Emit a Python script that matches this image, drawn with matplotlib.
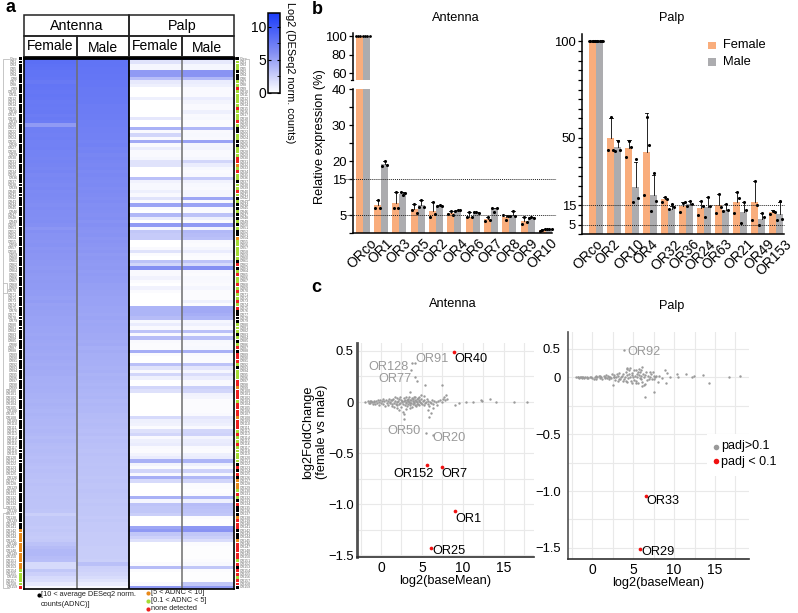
import numpy as np
import matplotlib
matplotlib.use("Agg")
import matplotlib.pyplot as plt
from matplotlib.colors import LinearSegmentedColormap
from matplotlib.patches import Rectangle
from matplotlib.transforms import ScaledTranslation

plt.rcParams['font.family'] = ['Liberation Sans', 'DejaVu Sans']
W, H = 798, 613

# ---------- panel a data ----------
ant_female = [11.5,8.3,8.2,8.1,8.0,8.0,7.9,7.6,7.9,7.8,
 7.7,7.8,7.7,7.5,7.6,7.5,7.6,7.4,7.5,7.4,
 5.4,7.2,7.2,7.1,7.2,7.0,7.0,7.1,6.9,6.9,
 6.8,6.9,6.8,6.7,6.8,6.6,6.7,6.6,6.5,6.6,
 6.4,6.5,6.4,6.3,6.2,6.3,6.2,6.2,6.1,6.2,
 6.0,5.7,6.0,5.9,5.9,5.8,5.9,5.7,5.8,5.7,
 5.7,5.6,5.6,5.5,5.6,5.5,5.4,5.5,5.4,5.4,
 5.3,5.3,5.2,5.3,5.1,5.2,5.1,5.1,5.0,5.0,
 5.0,4.9,4.9,4.8,4.9,4.8,4.7,4.8,4.7,4.6,
 4.7,4.6,4.5,4.6,4.5,4.5,4.4,4.4,4.3,4.4,
 4.3,4.2,4.2,4.1,4.2,4.1,4.0,4.1,4.0,3.9,
 3.9,3.8,3.9,3.8,3.7,3.8,3.7,3.6,3.7,3.6,
 3.5,3.6,3.5,3.4,3.5,3.4,3.4,3.3,3.4,3.3,
 3.3,3.2,3.3,3.2,3.2,3.2,3.1,2.6,3.0,3.0,
 3.0,2.9,3.0,2.9,2.8,2.9,3.3,3.6,3.8,3.8,
 3.6,3.5,2.0,2.0,3.0,2.5,2.0,1.8,1.2,0.3]
ant_male = [11.5,8.0,8.0,7.9,7.9,7.8,7.8,7.7,7.7,7.6,
 7.6,7.6,7.5,7.5,7.4,7.4,7.4,7.3,7.3,7.2,
 7.2,7.1,7.1,7.0,7.0,6.9,7.0,6.8,6.9,6.7,
 6.8,6.7,6.6,6.7,6.5,6.6,6.5,6.4,6.5,6.3,
 6.4,6.3,6.2,6.3,6.1,6.2,6.1,6.0,6.1,5.9,
 6.0,5.9,5.8,5.9,5.7,5.8,5.7,5.6,5.7,5.5,
 5.6,5.5,5.4,5.5,5.3,5.4,5.3,5.3,5.2,5.2,
 5.1,5.1,5.0,5.0,5.0,4.9,4.9,4.8,4.9,4.7,
 4.8,4.7,4.7,4.6,4.6,4.5,4.6,4.4,4.5,4.4,
 4.4,4.3,4.3,4.2,4.3,4.1,4.2,4.1,4.0,4.1,
 4.0,3.9,4.0,3.8,3.9,3.8,3.8,3.7,3.7,3.6,
 3.7,3.6,3.5,3.6,3.4,3.5,3.4,3.4,3.3,3.4,
 3.3,3.3,3.2,3.3,3.2,3.2,3.1,3.2,3.1,3.1,
 3.2,3.1,3.1,3.0,3.1,3.0,3.0,3.0,2.9,3.0,
 2.9,2.9,2.9,2.8,2.8,2.8,2.8,2.7,2.7,2.7,
 2.7,2.6,3.4,2.5,2.4,2.2,1.9,1.5,1.0,0.3]
palp_female = [11,1.5,.5,.5,5.4,5.4,3.5,1.2,.8,0,
 0,0,.8,0,0,0,0,0,1.3,0,
 0,4.2,.3,2.2,.3,4.6,.3,1,.3,.3,
 .5,1.5,1.5,0,0,0,3.4,.7,.4,.4,
 .8,.3,1.5,.3,5,.3,0,3.8,1,0,
 5.4,.5,3,2.8,2.8,0,0,.3,1.5,.2,
 0,3.2,2.2,6,.3,.3,.7,.2,0,.7,
 .2,0,0,0,0,4,4,4,3.6,.4,
 1,.3,3.2,.3,3.6,.3,.2,.2,4.4,.2,
 0,0,3.4,1.5,.3,2.2,.8,0,0,2.2,
 1.6,0,0,0,0,0,0,0,2,.8,
 .7,.2,1.6,2.2,.3,.8,1,.3,.2,.6,
 1,4.2,.6,.2,2.2,.3,4.4,2,0,0,
 0,0,4.2,.5,3.2,3,3,2.6,0,0,
 0,4.8,5.4,3,2.4,1.6,0,0,0,0,
 0,0,.2,3.6,.2,0,0,0,.3,5.4]
palp_male = [11,1.2,.5,.5,5.8,5.8,3.8,1,.8,.3,
 .3,.3,1,.6,.3,.3,.8,.3,.4,.2,
 .2,3.8,.3,.4,.3,5,.6,.7,.3,.3,
 .5,2.2,1,.4,.2,.3,2.8,.7,.4,.3,
 .5,.5,4.8,.3,5,.3,.2,3.2,.8,.2,
 5.4,.6,3.8,3.6,3.4,.3,.2,.5,1,.3,
 .2,3.2,2,6,.3,.2,.4,.3,.2,.5,
 .2,.2,.2,.8,.2,4.6,4.6,4.4,4,.5,
 .8,.3,3.4,.4,3.4,.4,.3,.4,4.2,.3,
 .2,.2,3.2,1.4,.5,1.8,1,.3,.3,2.6,
 2.2,.7,.6,.2,.2,.2,.2,.3,1.4,1,
 .8,.3,2.2,2.4,.6,1,1.2,.3,.2,.8,
 1,4,.8,.3,2.4,.4,3.8,2.2,.2,.2,
 .1,.2,4,.8,3.6,3.4,3.2,3,.2,.1,
 .1,5.6,5.8,3,2.6,1.8,.2,.1,.1,.1,
 .1,.2,.4,3,.2,.1,.1,.1,3,5.4]
cat_left = list('k' * 142 + 'o' * 12 + 'g' * 5 + 'r')
cat_right = list('kgggkkkggr' 'gggggrgggr' 'gkkggkkggg' 'rrogrggkgg'
                 'rgkgkkgkkg' 'kgkkoggggg' 'gkrkgrggrg' 'rggrgrkkkk'
                 'gggkgkgrkr' 'rrgkgggrro' 'rrrgrrrror' 'rrgrggrggg'
                 'ggkrkrkooo' 'grgkrkkkor' 'rrkkkorrrr' 'rgrkrrgrrk')
first_genes = ['Orco','OR1','OR3','OR5','OR2','OR4','OR6','OR7','OR8','OR9','OR10']
gene_labels = first_genes + [f'OR{n}' for n in range(11, 160)]
dot_colours = {'k': '#000000', 'o': '#E8891A', 'g': '#A6DC35', 'r': '#EE2020'}

# ---------- panel b data ----------
ant_genes = ['ORco','OR1','OR3','OR5','OR2','OR4','OR6','OR7','OR8','OR9','OR10']
ant_shift = [7,5,4,5,5,6,5,5,4,3,4]
ant_f = [100,7.9,8.5,6.7,6.1,5.6,4.6,3.9,4.4,3.3,0.9]
ant_m = [100,19.2,10.9,7.9,7.6,6.3,5.8,6.9,5.1,4.4,1.1]
ant_f_err = [100,9.3,11.6,8.2,8.7,6.3,5.9,4.4,5.2,4.5,1.1]
ant_m_err = [100,20.2,11.6,9.3,7.8,6.5,6.0,7.0,6.3,4.4,1.3]
ant_f_pts = [[100,100,100],[7.0,9.3,6.9],[7.1,11.6,7.1],[6.5,8.2,5.6],[4.6,8.7,5.3],[5.4,6.3,5.1],
             [4.6,5.9,4.4],[3.5,4.4,3.7],[5.2,3.7,4.8],[2.6,4.5,3.1],[0.7,0.9,1.1]]
ant_m_pts = [[100,100,100],[18.8,20.2,19.0],[11.6,10.5,11.3],[7.2,9.3,7.2],[7.6,7.8,7.7],[6.3,6.5,6.5],
             [6.0,5.8,5.7],[7.0,5.9,6.9],[4.8,6.3,4.8],[4.2,4.4,4.3],[1.1,1.1,1.3]]
palp_genes = ['ORco','OR2','OR10','OR4','OR32','OR36','OR24','OR63','OR21','OR49','OR153']
pal_shift = [0,-1,5,1,6,6,4,3,7,9,9]
pal_f = [100,50,44.6,42.7,18.3,14.9,13.6,15,16.8,16.9,11.6]
pal_m = [100,45.3,24.7,20.4,13,15.7,14.2,12.6,11.4,8.1,10.7]
pal_f_err = [100,60,48.9,63,19.5,16.6,17.3,20.9,22,27.6,12.6]
pal_m_err = [100,49,37.5,30.7,14.9,17.3,19.2,15.5,16.7,11.2,16.9]
pal_f_pts = [[100,100,100],[43.8,61,43.8],[40.2,48.2,45.3],[20.4,61,46.3],[16.9,19.5,18.1],[11.8,16.1,16.6],
             [10,17.3,14.7],[10.9,20.9,14.3],[10.9,21.8,19],[7.6,27.6,15],[10.4,12.2,11.5]]
pal_m_pts = [[100,100,100],[43,48.2,43.8],[16.8,39,18.7],[12,31.6,17],[13.2,15.7,14.3],[14.9,17.3,15.7],
             [8.8,19.2,14.7],[12.2,15.6,12.4],[5.9,16.7,12.8],[4.7,11.2,9.2],[7.4,17.4,8]]

# ---------- panel c data ----------
ma_ant_x = [-1.9,-1.6,-1.5,-1.4,-1.3,-1.2,-1.1,-1.0,-0.9,-0.8,-0.7,-0.6,-0.5,-0.4,-0.3,-0.2,-0.1,0.0,0.1,0.2,
 0.3,0.4,0.5,0.6,0.7,0.8,0.9,1.0,1.1,1.15,1.2,1.3,1.35,1.4,1.5,1.6,1.65,1.7,1.8,1.9,
 1.95,2.0,2.1,2.15,2.2,2.3,2.35,2.4,2.5,2.55,2.6,2.7,2.75,2.8,2.9,2.95,3.0,3.05,3.1,3.15,
 3.2,3.25,3.3,3.35,3.4,3.45,3.5,3.55,3.6,3.65,3.7,3.75,3.8,3.85,3.9,3.95,4.0,4.05,4.1,4.15,
 4.2,4.25,4.3,4.35,4.4,4.45,4.5,4.55,4.6,4.65,4.7,4.8,4.85,4.9,5.0,5.1,5.2,5.3,5.4,5.5,
 5.6,5.7,5.8,5.9,6.0,6.1,6.2,6.4,6.5,6.7,6.9,7.0,7.2,7.4,7.6,7.8,1.9,2.8,2.8,3.55,
 2.7,5.4,7.4,5.9,6.1,8.0,8.1,7.7,4.9,4.0,9.0,9.5,10.4,11.2,12.2,12.4,13.3,14.1,16.3,17.8,
 4.2,4.4,5.5,6.3,3.0,3.6,2.2,1.6,5.2,5.7,6.3,3.8,4.6]
ma_ant_y = [.0,.01,-.01,.005,-.01,.01,.0,-.015,.01,.0,-.02,.01,-.005,.015,-.03,.0,.02,-.01,.01,-.02,
 .03,.005,-.04,.02,-.01,.01,-.03,.03,.0,-.01,.02,-.02,.015,-.035,.03,-.01,.01,.05,-.02,.0,
 .04,-.03,.01,-.02,.03,.05,-.01,.02,-.05,.01,.0,-.02,.04,.01,-.03,.02,.045,-.01,.0,.02,
 -.04,.01,.03,-.02,.0,.05,-.01,.015,-.03,.02,-.005,.035,-.05,.01,-.02,.03,.0,-.01,.05,-.03,
 .02,-.04,.01,.03,-.015,.0,.04,-.02,.01,-.03,.02,.0,-.01,.03,-.02,.01,-.03,.02,-.01,.0,
 .03,-.02,.01,-.04,.0,-.01,.02,-.02,.01,.0,-.03,.01,.02,.0,.03,.015,-.06,-.17,-.12,.10,
 -.095,.17,.167,-.145,-.11,.07,.026,.046,.07,.045,-.03,-.006,.0,.0,.016,.013,.026,-.003,-.003,-.003,
 .24,.21,-.3,-.32,-.07,-.06,-.075,-.05,.06,-.08,-.06,.38,.045]
ant_lab_x = [4.1,3.7]
ant_lab_y = [0.38,0.31]
ant_red_x = [8.9,5.6,7.5,9.1,6.1]
ant_red_y = [0.49,-0.62,-0.64,-1.07,-1.43]
ma_pal_x = [-2.0,-1.8,-1.7,-1.6,-1.5,-1.4,-1.3,-1.2,-1.1,-1.0,-0.9,-0.7,-0.6,-0.5,-0.3,-0.2,0.0,0.2,0.3,0.4,
 0.5,0.6,0.8,0.9,1.0,1.1,1.2,1.4,1.5,1.6,1.7,1.8,1.9,2.0,2.1,2.2,2.3,2.4,2.5,2.6,
 2.7,2.8,2.9,3.0,3.1,3.2,3.3,3.4,3.5,3.6,3.7,3.8,3.9,4.0,4.1,4.2,4.25,4.3,4.4,4.5,
 4.6,4.65,4.7,4.8,4.85,4.9,5.0,5.05,5.1,5.2,5.3,5.4,5.45,5.5,5.6,5.65,5.7,5.8,5.85,5.9,
 6.0,6.05,6.1,6.2,6.3,6.4,6.5,6.6,6.7,6.8,6.9,7.0,7.1,7.2,7.3,7.4,7.5,7.6,7.7,7.8,
 8.0,8.2,8.5,8.9,9.1,9.06,9.5,10.3,10.5,11.4,12.2,12.4,13.5,14.3,16.7,18.0,6.5,7.56,4.3,4.5,
 6.1,5.4,5.9,4.1,2.6,3.3,6.3,5.6]
ma_pal_y = [.0,.0,.005,-.005,.0,.005,-.005,.0,.005,-.01,.0,-.01,.005,-.01,.0,.005,-.01,-.02,.0,.01,
 -.015,.0,.01,-.01,.015,.0,-.02,.01,-.01,.0,.02,-.005,.01,-.02,.005,.0,-.01,.03,-.07,.0,
 .02,-.025,.0,.03,-.03,.01,.04,-.02,.0,.01,-.03,.03,-.015,.0,.05,-.04,.02,.085,-.01,.03,
 .0,.085,-.035,.02,-.05,.035,.0,.065,-.025,.015,.06,-.03,.0,.025,-.055,.02,.07,-.01,.045,-.02,
 .01,.09,-.04,.03,.0,-.06,.02,.05,-.025,.01,-.015,.05,.0,.03,-.02,.045,.015,-.02,.0,.01,
 -.04,.01,-.01,.064,.035,-.047,.0,.03,.0,.03,.0,.01,.02,-.047,.0,.015,-.176,-.126,.07,.06,
 -.075,-.05,.06,-.035,.0,-.02,-.07,.045]
pal_lab_x = [3.86]
pal_lab_y = [0.235]
pal_red_x = [6.6,5.8]
pal_red_y = [-1.04,-1.51]

FEM = '#F9AD7C'
MAL = '#ACACAF'
GR = '#9A9A9A'

fig = plt.figure(figsize=(W / 100, H / 100), dpi=100)

def px_axes(l, t, r, b, **kw):
    return fig.add_axes([l / W, 1 - b / H, (r - l) / W, (b - t) / H], **kw)

over = px_axes(0, 0, W, H, zorder=20)
over.set_xlim(0, W); over.set_ylim(H, 0); over.axis('off'); over.patch.set_alpha(0)

def T(x, y, s, size=9.3, ha='center', va='center', **kw):
    over.text(x, y, s, fontsize=size, ha=ha, va=va, **kw)

for x, y, s in [(10, 8, 'a'), (317, 9, 'b'), (316, 287, 'c')]:
    T(x, y, s, size=13, fontweight='bold')

# ---------- panel a ----------
cmap = LinearSegmentedColormap.from_list('wb', ['#FFFFFF', '#8590F3', '#1A3CFA'])
heat = np.array([ant_female, ant_male, palp_female, palp_male]).T
axh = px_axes(24, 57, 234, 589)
im = axh.imshow(heat, cmap=cmap, vmin=0, vmax=12, aspect='auto', interpolation='nearest',
                extent=(0, 4, len(heat) - 0.5, -0.5))
axh.set_xticks([]); axh.set_yticks([])
for s in axh.spines.values():
    s.set_linewidth(1.2)
axh.axvline(1, color='#6E6E6E', lw=1.1)
axh.axvline(3, color='#6E6E6E', lw=1.1)
axh.axvline(2, color='black', lw=1.3)
rows = np.arange(len(heat))
axh.scatter(np.full(len(rows), -0.063), rows, c=[dot_colours[c] for c in cat_left], s=4.5,
            marker='s', linewidths=0, clip_on=False)
axh.scatter(np.full(len(rows), 4.063), rows, c=[dot_colours[c] for c in cat_right], s=4.5,
            marker='s', linewidths=0, clip_on=False)
for r, g in zip(rows, gene_labels):
    axh.text(-0.125, r, g, fontsize=2.5, ha='right', va='center', color='#666666', clip_on=False)
    axh.text(4.115, r, g, fontsize=2.5, ha='left', va='center', color='#666666', clip_on=False)
axh.set_xlim(0, 4); axh.set_ylim(len(heat) - 0.5, -0.5)

# header boxes
for (x0, x1, y0, y1) in [(24, 129, 14.5, 36), (129, 234, 14.5, 36), (24, 77, 36, 56.5),
                         (77, 129, 36, 56.5), (129, 182, 36, 56.5), (182, 234, 36, 56.5)]:
    over.add_patch(Rectangle((x0, y0), x1 - x0, y1 - y0, fc='none', ec='#222222', lw=1.1))
over.plot([24, 234], [57.5, 57.5], color='black', lw=2)
T(77, 25.5, 'Antenna', 10.3); T(182, 26, 'Palp', 10.3)
T(50, 46, 'Female', 10); T(103, 48, 'Male', 10); T(155, 46, 'Female', 10); T(207, 48, 'Male', 10)

# tree brackets
for pts in [[(9, 59), (3, 59), (3, 508), (9, 508)], [(9, 513), (3, 513), (3, 588), (9, 588)],
            [(3, 283), (7, 283), (7, 293), (3, 293)], [(245, 59), (249, 59), (249, 200), (245, 200)]]:
    xs, ys = zip(*pts)
    over.plot(xs, ys, color='#BDBDBD', lw=0.6)

# colourbar
cax = px_axes(268.3, 13.3, 280, 93)
cb = fig.colorbar(im, cax=cax, ticks=[0, 5, 10])
cb.ax.yaxis.set_ticks_position('both')
cb.ax.yaxis.set_label_position('left')
cb.ax.set_yticks([2.5, 7.5], minor=True)
cb.ax.tick_params(which='major', left=True, right=True, labelleft=True, labelright=False, labelsize=10,
                  length=2.5, width=0.8, pad=1.5, direction='in')
cb.ax.tick_params(which='minor', left=False, right=True, length=2, width=0.6, direction='in')
cb.outline.set_linewidth(1.1)
T(290, 73, 'Log2 (DESeq2 norm. counts)', 7.8, rotation=270)

# bottom legend
over.scatter([39.3], [595], s=9, c='black', linewidths=0)
T(41, 595, '[10 < average DESeq2 norm.', 5.3, ha='left', color='#222222')
T(41, 604, 'counts(ADNC)]', 5.3, ha='left', color='#222222')
for y, c, s in [(592.7, 'o', '[5 < ADNC < 10]'), (601, 'g', '[0.1 < ADNC < 5]'), (608.7, 'r', 'none detected')]:
    over.scatter([147.7], [y], s=9, c=dot_colours[c], linewidths=0)
    T(150.7, y, s, 5.3, ha='left', color='#222222')

# ---------- panel b ----------
BW = 0.382
def bars(ax, f, m, fe, me, fp, mp, ptsize=5):
    idx = np.arange(len(f))
    ax.bar(idx - BW / 2, f, BW, color=FEM, linewidth=0)
    ax.bar(idx + BW / 2, m, BW, color=MAL, linewidth=0)
    for i in idx:
        for off, v, e, p in [(-BW / 2, f[i], fe[i], fp[i]), (BW / 2, m[i], me[i], mp[i])]:
            ax.plot([i + off] * 2, [v, e], color='black', lw=0.6, zorder=3)
            ax.plot([i + off - 0.1, i + off + 0.1], [e, e], color='black', lw=0.6, zorder=3)
            xs = [i + off - 0.13, i + off, i + off + 0.13]
            ax.scatter(xs, p, s=ptsize, c='black', linewidths=0, zorder=4, clip_on=False)

def clean(ax):
    ax.spines['top'].set_visible(False)
    ax.spines['right'].set_visible(False)
    ax.spines['left'].set_linewidth(1.1)
    ax.spines['bottom'].set_linewidth(1.1)
    ax.patch.set_alpha(0)

def gene_ticks(ax, genes, shifts):
    ax.set_xticks(range(len(genes)))
    ax.set_xticklabels(genes, rotation=45, ha='right', va='top', rotation_mode='anchor')
    ax.tick_params(axis='x', labelsize=10, length=0, pad=2)
    for lab, dx in zip(ax.get_xticklabels(), shifts):
        lab.set_transform(lab.get_transform() + ScaledTranslation(dx / 100, 0, fig.dpi_scale_trans))

# antenna lower
xl_a = (-0.55, 10.33)
axa = px_axes(352.7, 89.3, 552, 233.3)
bars(axa, ant_f, ant_m, ant_f_err, ant_m_err, ant_f_pts, ant_m_pts)
axa.set_xlim(*xl_a); axa.set_ylim(0, 40)
clean(axa)
axa.set_yticks(range(0, 41, 5))
axa.set_yticklabels(['', '5', '', '15', '20', '', '30', '', '40'])
gene_ticks(axa, ant_genes, ant_shift)
axa.tick_params(axis='y', labelsize=9.4, length=3, width=0.9, pad=1.5)
for y in (5, 15):
    axa.plot([-1.0, 10.55], [y, y], color='#222222', lw=0.7, ls=(0, (1, 1)), clip_on=False, zorder=5)
# antenna upper
axu = px_axes(352.7, 33.3, 552, 80)
axu.bar(np.arange(len(ant_f)) - BW / 2, ant_f, BW, color=FEM, linewidth=0)
axu.bar(np.arange(len(ant_m)) + BW / 2, ant_m, BW, color=MAL, linewidth=0)
axu.scatter(np.linspace(0 - BW, 0 + BW, 7), [100] * 7, s=4, c='black', linewidths=0, zorder=4)
axu.set_xlim(*xl_a); axu.set_ylim(52.8, 102.9)
clean(axu)
axu.spines['bottom'].set_visible(False)
axu.set_xticks([])
axu.set_yticks([60, 80, 100])
axu.tick_params(axis='y', labelsize=9.4, length=3, width=0.9, pad=1.5)
axu.plot([-0.55, -0.62], [52.8, 52.8], color='black', lw=0.9, clip_on=False)
T(456, 18, 'Antenna', 9.2)
T(320, 137, 'Relative expression (%)', 9.2, rotation=90)

# palp
axp = px_axes(582.3, 34.3, 784, 234.3)
bars(axp, pal_f, pal_m, pal_f_err, pal_m_err, pal_f_pts, pal_m_pts)
axp.scatter(np.linspace(0 - BW, 0 + BW, 7), [100] * 7, s=4, c='black', linewidths=0, zorder=4)
axp.set_xlim(-0.77, 10.44); axp.set_ylim(0, 103.6)
clean(axp)
axp.set_yticks(range(0, 101, 5))
axp.set_yticklabels([str(v) if v in (5, 15, 50, 100) else '' for v in range(0, 101, 5)])
gene_ticks(axp, palp_genes, pal_shift)
axp.tick_params(axis='y', labelsize=9.4, length=3, width=0.9, pad=1.5)
for y in (5, 15):
    axp.plot([-0.85, 10.44], [y, y], color='#222222', lw=0.7, ls=(0, (1, 1)), clip_on=False, zorder=5)
T(672, 18, 'Palp', 9.2)
over.add_patch(Rectangle((708, 41.5), 7.5, 7.5, fc=FEM, ec='none'))
over.add_patch(Rectangle((708, 58), 7.5, 7.5, fc=MAL, ec='none'))
T(723, 45.5, 'Female', 9.3, ha='left')
T(723, 62, 'Male', 9.3, ha='left')

# ---------- panel c ----------
GRID = '#E9E9E9'
def ma(ax, x, y, lx, ly, rx, ry, ypad):
    ax.set_axisbelow(True)
    ax.xaxis.set_minor_locator(plt.MultipleLocator(2.5))
    ax.yaxis.set_minor_locator(plt.MultipleLocator(0.25))
    ax.grid(which='both', color=GRID, lw=0.8)
    ax.scatter(x, y, s=3, c=GR, linewidths=0, zorder=3)
    ax.scatter(lx, ly, s=3, c=GR, linewidths=0, zorder=3)
    ax.scatter(rx, ry, s=7, c='#F01010', linewidths=0, zorder=4)
    ax.set_xticks([0, 5, 10, 15])
    ax.tick_params(which='both', length=0)
    ax.tick_params(axis='x', labelsize=10, pad=3)
    ax.tick_params(axis='y', labelsize=9.4, pad=ypad)
    ax.spines['top'].set_visible(False)
    ax.spines['right'].set_visible(False)
    ax.spines['left'].set_color('#505050')
    ax.spines['bottom'].set_color('#303030')
    ax.set_xlabel('log2(baseMean)', fontsize=9.2, labelpad=0)

axc = px_axes(357.3, 342.7, 534, 556.7)
axc.set_xlim(-2.9, 18.7); axc.set_ylim(-1.513, 0.58)
ma(axc, ma_ant_x, ma_ant_y, ant_lab_x, ant_lab_y, ant_red_x, ant_red_y, 2.5)
axc.spines['left'].set_linewidth(2)
axc.spines['bottom'].set_linewidth(1.2)
axc.set_yticks([0.5, 0, -0.5, -1, -1.5])
axc.set_yticklabels(['0.5', '0', '−0.5', '−1.0', '−1.5'])
for x, y, s, ha, col in [(4.16, .42, 'OR91', 'left', GR), (3.43, .338, 'OR128', 'right', GR), (3.76, .226, 'OR77', 'right', GR),
                         (4.9, -.284, 'OR50', 'right', GR), (6.33, -.353, 'OR20', 'left', GR), (8.94, .42, 'OR40', 'left', 'black'),
                         (6.49, -.706, 'OR152', 'right', 'black'), (7.39, -.709, 'OR7', 'left', 'black'),
                         (9.14, -1.147, 'OR1', 'left', 'black'), (6.29, -1.454, 'OR25', 'left', 'black')]:
    axc.text(x, y, s, ha=ha, va='center', fontsize=9.2, color=col, zorder=5)
T(453, 304, 'Antenna', 9.2)
T(315, 432, 'log2FoldChange\n(female vs male)', 9.2, rotation=90, linespacing=1.2)

axd = px_axes(567.7, 331.7, 749, 559.3)
axd.set_xlim(-3, 19.15); axd.set_ylim(-1.6, 0.4)
ma(axd, ma_pal_x, ma_pal_y, pal_lab_x, pal_lab_y, pal_red_x, pal_red_y, 5)
axd.spines['left'].set_linewidth(1.2)
axd.spines['bottom'].set_linewidth(1.2)
axd.set_yticks([0.25, 0, -0.5, -1, -1.5])
axd.set_yticklabels(['0.5', '0', '−0.5', '−1.0', '−1.5'])
for x, y, s, col in [(4.27, .225, 'OR92', GR), (6.67, -1.092, 'OR33', 'black'), (6.0, -1.534, 'OR29', 'black')]:
    axd.text(x, y, s, ha='left', va='center', fontsize=9.2, color=col, zorder=5)
T(672, 306, 'Palp', 9.2)
over.add_patch(Rectangle((706.5, 434), 74, 42, fc='white', ec='none'))
over.scatter([715.7], [446.7], s=16, c=GR, linewidths=0)
over.scatter([715.7], [461.3], s=16, c='#F01010', linewidths=0)
T(721, 446.5, 'padj>0.1', 9, ha='left')
T(721, 462, 'padj < 0.1', 9, ha='left')

fig.savefig('out.png', dpi=100)
